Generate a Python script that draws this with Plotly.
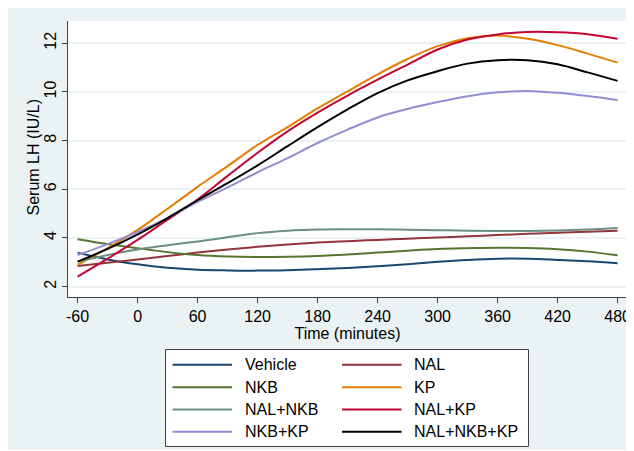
import plotly.graph_objects as go

# ---- data ----
time_min = [-60, -30, 0, 30, 60, 90, 120, 150, 180, 210, 240, 270, 300, 330, 360, 390, 420, 450, 480]

vehicle = [3.40, 3.12, 2.92, 2.78, 2.70, 2.67, 2.66, 2.68, 2.72, 2.77, 2.84, 2.92, 3.02, 3.10, 3.15, 3.15, 3.10, 3.04, 2.96]
nal = [2.85, 2.98, 3.12, 3.26, 3.40, 3.53, 3.64, 3.73, 3.81, 3.87, 3.92, 3.97, 4.02, 4.07, 4.12, 4.17, 4.22, 4.26, 4.30]
nkb = [3.95, 3.75, 3.58, 3.42, 3.30, 3.24, 3.22, 3.23, 3.26, 3.32, 3.40, 3.48, 3.55, 3.58, 3.60, 3.59, 3.54, 3.44, 3.29]
kp = [2.90, 3.58, 4.33, 5.20, 6.10, 6.95, 7.82, 8.55, 9.32, 10.02, 10.72, 11.35, 11.88, 12.20, 12.31, 12.18, 11.92, 11.57, 11.20]
nal_nkb = [3.03, 3.30, 3.53, 3.70, 3.86, 4.03, 4.20, 4.30, 4.35, 4.36, 4.36, 4.34, 4.32, 4.30, 4.29, 4.29, 4.31, 4.35, 4.41]
nal_kp = [2.41, 3.15, 3.92, 4.75, 5.58, 6.55, 7.50, 8.38, 9.15, 9.85, 10.50, 11.12, 11.74, 12.15, 12.36, 12.46, 12.45, 12.37, 12.18]
nkb_kp = [3.30, 3.75, 4.25, 4.82, 5.48, 6.08, 6.70, 7.28, 7.90, 8.45, 8.95, 9.30, 9.58, 9.82, 9.98, 10.04, 9.96, 9.83, 9.67]
nal_nkb_kp = [3.03, 3.55, 4.15, 4.82, 5.55, 6.25, 6.98, 7.77, 8.55, 9.28, 9.95, 10.47, 10.85, 11.16, 11.30, 11.30, 11.13, 10.80, 10.45]

series_names = ["Vehicle", "NAL", "NKB", "KP", "NAL+NKB", "NAL+KP", "NKB+KP", "NAL+NKB+KP"]
series_values = [vehicle, nal, nkb, kp, nal_nkb, nal_kp, nkb_kp, nal_nkb_kp]
series_colors = ["#1a476f", "#90353b", "#55752f", "#e37e00", "#6e8e84", "#c10534", "#938dd2", "#000000"]

x_ticks = [-60, 0, 60, 120, 180, 240, 300, 360, 420, 480]
y_ticks = [2, 4, 6, 8, 10, 12]

# ---- figure geometry (page has an 8px body margin) ----
OFF = 8
W, H = 626, 442
L, R, T = 60, 7, 13
PH = 276
B = H - T - PH
PW = W - L - R
FONT = "Liberation Sans, Arial, sans-serif"
BG = "#eaf2f3"
AX = "#404040"


def px2x(px):
    return (px - OFF - L) / PW


def py2y(py):
    return (T + PH + OFF - py) / PH


fig = go.Figure()
for name, vals, col in zip(series_names, series_values, series_colors):
    fig.add_trace(go.Scatter(
        x=time_min, y=vals, mode="lines", name=name, showlegend=False,
        line=dict(color=col, width=2, shape="spline", smoothing=1.0),
        hoverinfo="x+y+name",
    ))

shapes = [
    # legend box
    dict(type="rect", xref="paper", yref="paper", layer="above",
         x0=px2x(165.5), x1=px2x(528.5), y0=py2y(446.5), y1=py2y(349.5),
         fillcolor="white", line=dict(color=AX, width=1)),
]
annotations = [
    dict(xref="paper", yref="paper", x=px2x(33), y=py2y(157.5),
         xanchor="center", yanchor="middle", textangle=-90, showarrow=False,
         text="Serum LH (IU/L)", font=dict(family=FONT, size=16, color="black")),
]

row_y = [364.8, 387.2, 409.5, 431.8]
col_line = [(172.5, 232), (342, 401.5)]
col_text = [242.5, 411.5]
for i, (name, col) in enumerate(zip(series_names, series_colors)):
    r, c = divmod(i, 2)
    yy = py2y(row_y[r])
    shapes.append(dict(type="line", xref="paper", yref="paper", layer="above",
                       x0=px2x(col_line[c][0]), x1=px2x(col_line[c][1]), y0=yy, y1=yy,
                       line=dict(color=col, width=2)))
    annotations.append(dict(xref="paper", yref="paper", x=px2x(col_text[c]), y=yy,
                            xanchor="left", yanchor="middle", showarrow=False,
                            text=name, font=dict(family=FONT, size=16, color="black")))

fig.update_layout(
    width=W, height=H,
    margin=dict(l=L, r=R, t=T, b=B, pad=0),
    paper_bgcolor=BG, plot_bgcolor="white",
    font=dict(family=FONT, size=16, color="black"),
    shapes=shapes, annotations=annotations,
    showlegend=False,
    xaxis=dict(
        range=[-69.6, 489.4], tickvals=x_ticks, ticktext=[str(v) for v in x_ticks],
        ticks="outside", ticklen=5, tickwidth=1, tickcolor=AX,
        showline=True, linecolor=AX, linewidth=1, mirror=False,
        showgrid=False, zeroline=False,
        tickfont=dict(family=FONT, size=16, color="black"),
        title=dict(text="Time (minutes)", font=dict(family=FONT, size=16, color="black"), standoff=0),
        automargin=False,
    ),
    yaxis=dict(
        range=[1.577, 12.91], tickvals=y_ticks, ticktext=[str(v) for v in y_ticks],
        tickangle=-90,
        ticks="outside", ticklen=5, tickwidth=1, tickcolor=AX,
        showline=True, linecolor=AX, linewidth=1,
        showgrid=True, gridcolor=BG, gridwidth=1.5, zeroline=False,
        tickfont=dict(family=FONT, size=16, color="black"),
        automargin=False,
    ),
)

fig.write_html("out.html")
